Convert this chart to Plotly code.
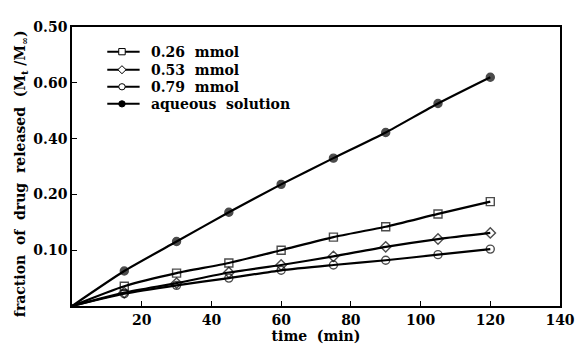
import plotly.graph_objects as go

time_min = [0, 15, 30, 45, 60, 75, 90, 105, 120]
mmol_026 = [0, 0.0355, 0.059, 0.077, 0.100, 0.1235, 0.142, 0.165, 0.187]
mmol_053 = [0, 0.024, 0.041, 0.060, 0.0735, 0.089, 0.106, 0.120, 0.131]
mmol_079 = [0, 0.022, 0.037, 0.050, 0.064, 0.0735, 0.082, 0.092, 0.102]
aqueous = [0, 0.0627, 0.1155, 0.168, 0.218, 0.265, 0.311, 0.363, 0.410]

NB = "\u00a0"  # wide word gaps, as in the reference typesetting
series_names = ["0.26 " + NB + "mmol", "0.53 " + NB + "mmol", "0.79 " + NB + "mmol",
                "aqueous " + NB + "solution"]
series_values = [mmol_026, mmol_053, mmol_079, aqueous]
series_symbols = ["square-open", "diamond-open", "circle-open", "circle"]

y_tick_vals = [0.1, 0.2, 0.3, 0.4, 0.5]
y_tick_text = ["0.10", "0.20", "0.40", "0.60", "0.50"]
x_tick_vals = [20, 40, 60, 80, 100, 120, 140]

x_title = "time " + NB + "(min)"
y_title = (" " + NB).join(["fraction", "of", "drug", "released",
                            "(M<sub>t</sub> /M<sub>∞</sub>)"])

FONT = "DejaVu Serif"
OFF = 8  # the page body has an 8px margin; lay out in page pixels
W, H = 586 - OFF, 348 - OFF
# plot area in page pixels: x 72..570, y 19..313
ML, MT = 72 - OFF, 19 - OFF
MR, MB = W - (570 - OFF), H - (313 - OFF)
PW, PH = W - ML - MR, H - MT - MB


def px(x):
    return (x - OFF - ML) / PW


def py(y):
    return (H - MB - (y - OFF)) / PH


def f(size):
    return dict(size=size, family=FONT, weight="bold", color="black")


fig = go.Figure()
for name, vals, sym in zip(series_names, series_values, series_symbols):
    sizes = [0] + [8] * (len(time_min) - 1)
    fig.add_trace(go.Scatter(
        x=time_min, y=vals, name=name, mode="lines+markers",
        line=dict(color="black", width=2.2, shape="spline", smoothing=0.6),
        marker=dict(symbol=sym, size=sizes, color="black",
                    line=dict(color="black", width=1.4)),
        showlegend=False,
    ))

# compact legend drawn in page pixels (rows are tightly packed in the reference)
shapes = []
annotations = []
row_y = [45, 64, 82, 100]
x0, x1, xc, xt = 108, 141, 123, 151
r = 3.3
for name, sym, yy in zip(series_names, series_symbols, row_y):
    shapes.append(dict(type="line", xref="paper", yref="paper",
                       x0=px(x0), x1=px(x1), y0=py(yy), y1=py(yy),
                       line=dict(color="black", width=2)))
    fill = "black" if sym == "circle" else "white"
    if sym.startswith("square"):
        shapes.append(dict(type="rect", xref="paper", yref="paper",
                           x0=px(xc - r), x1=px(xc + r), y0=py(yy + r), y1=py(yy - r),
                           fillcolor=fill, line=dict(color="black", width=1)))
    elif sym.startswith("diamond"):
        d = r + 0.9
        path = "M {} {} L {} {} L {} {} L {} {} Z".format(
            px(xc - d), py(yy), px(xc), py(yy - d), px(xc + d), py(yy), px(xc), py(yy + d))
        shapes.append(dict(type="path", xref="paper", yref="paper", path=path,
                           fillcolor=fill, line=dict(color="black", width=1)))
    else:
        shapes.append(dict(type="circle", xref="paper", yref="paper",
                           x0=px(xc - r), x1=px(xc + r), y0=py(yy + r), y1=py(yy - r),
                           fillcolor=fill, line=dict(color="black", width=1)))
    annotations.append(dict(text=name, xref="paper", yref="paper",
                            x=px(xt), y=py(yy), xanchor="left", yanchor="middle",
                            showarrow=False, font=f(14)))

annotations.append(dict(text=y_title,
                        xref="paper", yref="paper", x=px(20), y=py(174),
                        xanchor="center", yanchor="middle", textangle=-90,
                        showarrow=False, font=f(14)))

fig.update_layout(
    width=W, height=H,
    margin=dict(l=ML, r=MR, t=MT, b=MB),
    paper_bgcolor="white", plot_bgcolor="white",
    font=f(14),
    shapes=shapes, annotations=annotations,
    showlegend=False,
)
fig.update_xaxes(
    range=[0, 140], tickvals=x_tick_vals, ticks="inside", ticklen=5,
    tickcolor="black", showline=True, linecolor="black", linewidth=1.5,
    mirror=True, showgrid=False, zeroline=False,
    tickfont=f(14),
    title=dict(text=x_title, font=f(14), standoff=0),
)
fig.update_yaxes(
    range=[0, 0.5], tickvals=y_tick_vals, ticktext=y_tick_text,
    ticks="inside", ticklen=5, tickcolor="black",
    showline=True, linecolor="black", linewidth=1.5, mirror=True,
    showgrid=False, zeroline=False,
    tickfont=f(14),
)

fig.write_html("out.html")
